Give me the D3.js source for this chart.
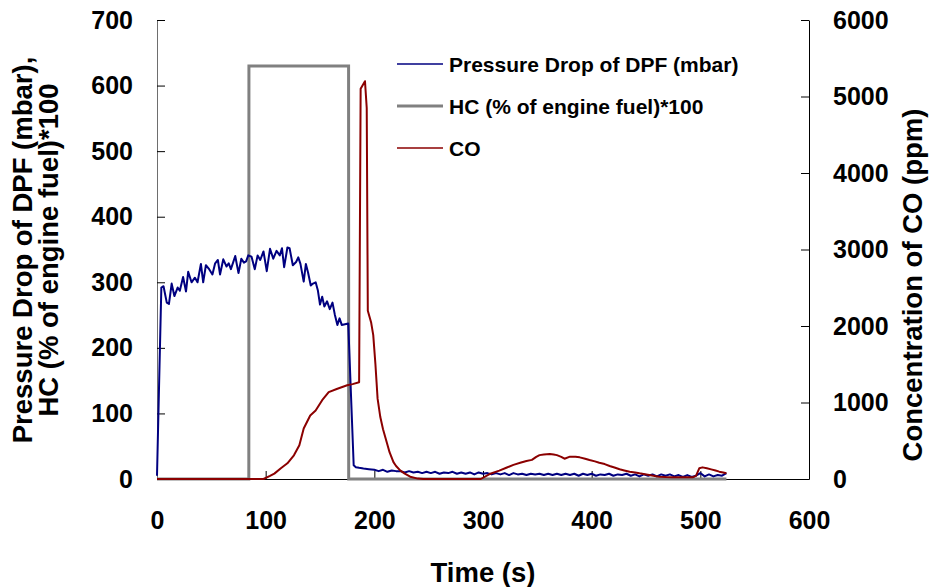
<!DOCTYPE html>
<html>
<head>
<meta charset="utf-8">
<script src="https://cdn.jsdelivr.net/npm/d3@7"></script>
<style>
  body { margin: 0; background: #fff; }
  text { font-family: Arial, "Liberation Sans", sans-serif; font-weight: bold; }
</style>
</head>
<body>
<div id="canvas"></div>
<script>
var width = 931;
var height = 587;

// Pressure drop of DPF (mbar), left axis
var pdTime = [0, 2, 4, 6, 9, 11, 13.5, 16, 19, 21, 24, 26.7, 28.7, 31.8, 34.9, 37.3, 40.4, 42.5, 45, 48,
  51, 53.5, 56, 58, 61, 64, 66, 68, 70, 72, 75, 77.6, 80, 82, 84, 87, 90, 92.6, 95, 98,
  101, 104, 107, 110, 113, 115, 117, 120, 122, 125, 128, 130, 132, 135, 137, 139, 141.5, 143.6, 146, 148,
  150, 152, 154, 156.5, 159, 161.5, 163.6, 166, 168, 170, 173, 176, 181, 183, 186, 190, 195,
  200, 204, 208, 212, 216, 220, 224, 228, 232, 236, 240, 244, 248, 252, 256, 260, 264, 268, 272, 276,
  280, 284, 288, 292, 296, 300, 304, 308, 312, 316, 320, 324, 328, 332, 336, 340, 344, 348, 352, 356,
  360, 364, 368, 372, 376, 380, 384, 388, 392, 396, 400, 404, 408, 412, 416, 420, 424, 428, 432, 436,
  440, 444, 448, 452, 456, 460, 464, 468, 472, 476, 480, 484, 488, 492, 496, 500, 504, 508, 512, 516,
  520, 524];
var pdValues = [5, 150, 292, 294, 269, 267, 298, 279, 292, 287, 308, 286, 316, 300, 307, 300, 328, 300, 326, 320,
  312, 329, 334, 312, 335, 324, 329, 320, 330, 340, 314, 336, 330, 332, 341, 339, 320, 341, 334, 347,
  317, 351, 336, 348, 341, 352, 323, 353, 352, 326, 331, 338, 328, 301, 328, 315, 295, 298, 300, 288,
  266, 278, 263, 271, 259, 269, 251, 235, 245, 235, 236, 237, 21, 18, 17, 16, 15,
  14, 12, 14, 11, 13, 12, 12, 10, 12, 10, 11, 9, 11, 9, 11, 8, 10, 9, 11, 8,
  10, 8, 10, 7, 10, 8, 9, 7, 9, 7, 9, 6, 9, 7, 8, 6, 8, 7, 8, 6,
  8, 6, 8, 6, 8, 6, 8, 5, 8, 6, 8, 5, 7, 6, 8, 5, 7, 6, 8, 5,
  7, 4, 7, 5, 7, 4, 7, 5, 7, 4, 6, 3, 6, 3, 5, 9, 4, 7, 4, 6,
  5, 9];

// HC (% of engine fuel)*100, left axis
var hcTime = [0, 84.5, 84.6, 176.3, 176.4, 524];
var hcValues = [0, 0, 630, 630, 0, 0];

// CO concentration (ppm), right axis
var coTime = [0, 98, 104, 108, 114, 120, 126, 131, 135, 141, 146, 152, 158, 166, 175, 180, 186, 187.4,
  191.4, 193, 194, 197, 199, 201, 203, 205.5, 208, 211.6, 214, 217.6, 220, 224, 228, 233, 240, 245,
  298, 306, 315, 322, 328, 335, 340, 345, 349, 352, 356, 361.5, 365, 368, 372, 375, 380, 385, 389,
  394, 398, 403, 407, 412, 416.5, 421, 425.7, 430, 435, 440, 444, 449, 453, 458, 462, 468, 474, 484,
  493, 496, 499, 502, 506, 510, 514, 517.4, 521, 524];
var coValues = [0, 0, 40, 70, 140, 205, 310, 440, 660, 830, 895, 1030, 1135, 1180, 1225, 1240, 1265, 5100,
  5200, 4850, 2200, 2050, 1880, 1500, 1050, 810, 650, 470, 350, 220, 170, 110, 70, 30, 5, 0,
  0, 65, 110, 150, 185, 215, 235, 250, 290, 312, 320, 326, 320, 312, 290, 265, 292, 290, 283,
  265, 248, 230, 212, 195, 170, 150, 127, 112, 96, 86, 74, 62, 52, 40, 30, 25, 22, 22,
  22, 40, 140, 152, 140, 126, 110, 96, 85, 74];

var xTicks = [0, 100, 200, 300, 400, 500, 600];
var yLeftTicks = [0, 100, 200, 300, 400, 500, 600, 700];
var yRightTicks = [0, 1000, 2000, 3000, 4000, 5000, 6000];

var seriesNames = ["Pressure Drop of DPF (mbar)", "HC (% of engine fuel)*100", "CO"];
var seriesColors = ["#000080", "#808080", "#8b0000"];

var svg = d3.select("#canvas").append("svg")
  .attr("width", width)
  .attr("height", height)
  .style("background-color", "white");

var xScale = d3.scaleLinear().domain([0, 600]).range([157, 809]);
var yLeft = d3.scaleLinear().domain([0, 700]).range([479, 20]);
var yRight = d3.scaleLinear().domain([0, 6000]).range([479, 20]);

// axes, ticks point inward
var fmt = d3.format("d");
var xAxis = d3.axisBottom(xScale).tickValues(xTicks).tickFormat(fmt).tickSizeInner(-8).tickSizeOuter(0).tickPadding(32);
var leftAxis = d3.axisLeft(yLeft).tickValues(yLeftTicks).tickFormat(fmt).tickSizeInner(-8).tickSizeOuter(0).tickPadding(24);
var rightAxis = d3.axisRight(yRight).tickValues(yRightTicks).tickFormat(fmt).tickSizeInner(-8).tickSizeOuter(0).tickPadding(24);

var gx = svg.append("g").attr("transform", "translate(0,479)").call(xAxis);
var gl = svg.append("g").attr("transform", "translate(157,0)").call(leftAxis);
var gr = svg.append("g").attr("transform", "translate(809,0)").call(rightAxis);

[gx, gl, gr].forEach(function(g) {
  g.selectAll("path, line").attr("stroke", "#000").attr("stroke-width", 1);
  g.selectAll("text").attr("fill", "#000").style("font-size", "25px").style("font-family", "Arial, 'Liberation Sans', sans-serif").style("font-weight", "bold");
});
gl.select(".domain").attr("stroke", "#6e6e6e");

// lines
function toPoints(ts, vs) {
  return ts.map(function(t, i) { return { t: t, v: vs[i] }; });
}

var lineLeft = d3.line().x(d => xScale(d.t)).y(d => yLeft(d.v));
var lineRight = d3.line().x(d => xScale(d.t)).y(d => yRight(d.v));

svg.append("path")
  .datum(toPoints(hcTime, hcValues))
  .attr("d", lineLeft)
  .attr("fill", "none")
  .attr("stroke", seriesColors[1])
  .attr("stroke-width", 3);

svg.append("path")
  .datum(toPoints(pdTime, pdValues))
  .attr("d", lineLeft)
  .attr("fill", "none")
  .attr("stroke", seriesColors[0])
  .attr("stroke-width", 2)
  .attr("stroke-linejoin", "round");

svg.append("path")
  .datum(toPoints(coTime, coValues))
  .attr("d", lineRight)
  .attr("fill", "none")
  .attr("stroke", seriesColors[2])
  .attr("stroke-width", 2)
  .attr("stroke-linejoin", "round");

// legend
var legend = svg.append("g");
var legendY = [64, 106, 148];
seriesNames.forEach(function(name, i) {
  legend.append("line")
    .attr("x1", 397).attr("x2", 443)
    .attr("y1", legendY[i]).attr("y2", legendY[i])
    .attr("stroke", seriesColors[i])
    .attr("stroke-width", i === 1 ? 3 : 1.5);
  legend.append("text")
    .attr("x", 449).attr("y", legendY[i])
    .attr("dy", "0.36em")
    .style("font-size", "21px")
    .text(name);
});

// axis titles
svg.append("text")
  .attr("transform", "translate(483,582)")
  .attr("text-anchor", "middle")
  .style("font-size", "27.5px")
  .text("Time (s)");

svg.append("text")
  .attr("transform", "translate(32,250) rotate(-90)")
  .attr("text-anchor", "middle")
  .style("font-size", "27.5px")
  .text("Pressure Drop of DPF (mbar),");

svg.append("text")
  .attr("transform", "translate(58,250) rotate(-90)")
  .attr("text-anchor", "middle")
  .style("font-size", "27.5px")
  .text("HC (% of engine fuel)*100");

svg.append("text")
  .attr("transform", "translate(922,285) rotate(-90)")
  .attr("text-anchor", "middle")
  .style("font-size", "27.5px")
  .text("Concentration of CO (ppm)");
</script>
</body>
</html>
